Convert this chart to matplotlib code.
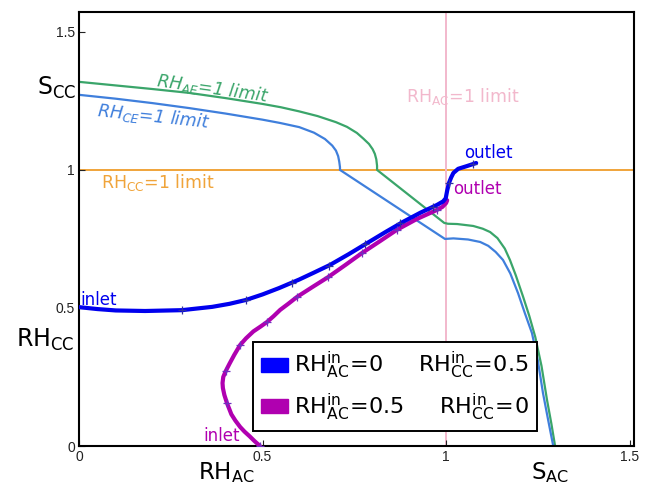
import matplotlib
matplotlib.use("Agg")
import matplotlib.pyplot as plt
from matplotlib.patches import Patch

plt.rcParams['mathtext.default'] = 'regular'
plt.rcParams['font.family'] = ['DejaVu Sans']

# ---- data ----
ae_x = [0.0, 0.1, 0.2, 0.3, 0.4, 0.5, 0.55, 0.6, 0.65, 0.7, 0.73, 0.757, 0.775, 0.79, 0.80,
        0.806, 0.810, 0.812, 0.812,
        0.995, 1.005, 1.03, 1.074, 1.10, 1.12, 1.14, 1.16, 1.174, 1.19, 1.21, 1.227, 1.243,
        1.26, 1.275, 1.287, 1.297]
ae_y = [1.319, 1.306, 1.293, 1.279, 1.260, 1.239, 1.227, 1.212, 1.195, 1.173, 1.156, 1.134,
        1.113, 1.094, 1.075, 1.058, 1.038, 1.015, 1.0,
        0.808, 0.805, 0.804, 0.797, 0.787, 0.775, 0.753, 0.715, 0.674, 0.618, 0.54, 0.47, 0.395,
        0.29, 0.167, 0.08, 0.0]

ce_x = [0.0, 0.1, 0.2, 0.3, 0.4, 0.5, 0.548, 0.6, 0.64, 0.67, 0.69, 0.70, 0.706, 0.709,
        0.711, 0.711,
        0.997, 1.02, 1.06, 1.093, 1.115, 1.135, 1.155, 1.175, 1.196, 1.215, 1.234, 1.25,
        1.264, 1.278, 1.292]
ce_y = [1.272, 1.258, 1.242, 1.224, 1.204, 1.182, 1.17, 1.155, 1.135, 1.112, 1.088, 1.07,
        1.05, 1.03, 1.01, 1.0,
        0.75, 0.752, 0.748, 0.739, 0.725, 0.703, 0.674, 0.625, 0.554, 0.48, 0.409, 0.31,
        0.192, 0.095, 0.0]

traj1_x = [0.0, 0.05, 0.1, 0.18, 0.28, 0.363, 0.41, 0.455, 0.5, 0.545, 0.6, 0.64, 0.684,
           0.735, 0.785, 0.835, 0.883, 0.93, 0.975, 0.992, 0.999, 1.003, 1.008, 1.014, 1.02,
           1.033, 1.057, 1.082]
traj1_y = [0.503, 0.496, 0.491, 0.489, 0.492, 0.504, 0.515, 0.529, 0.549, 0.572, 0.603,
           0.628, 0.656, 0.695, 0.735, 0.775, 0.812, 0.845, 0.873, 0.886, 0.897, 0.925, 0.953,
           0.973, 0.989, 1.004, 1.014, 1.025]
traj1_mx = [0.28, 0.455, 0.58, 0.68, 0.78, 0.875, 0.965, 1.008, 1.074]
traj1_my = [0.492, 0.529, 0.59, 0.653, 0.731, 0.806, 0.867, 0.953, 1.022]

traj2_x = [0.493, 0.478, 0.465, 0.451, 0.439, 0.426, 0.415, 0.403, 0.396, 0.392, 0.391,
           0.393, 0.40, 0.41, 0.423, 0.439, 0.455, 0.475, 0.495, 0.512, 0.53, 0.548, 0.57,
           0.594, 0.635, 0.679, 0.725, 0.771, 0.82, 0.866, 0.92, 0.975, 0.99, 1.0, 1.003]
traj2_y = [0.0, 0.018, 0.035, 0.052, 0.069, 0.092, 0.115, 0.156, 0.185, 0.21, 0.228,
           0.25, 0.272, 0.298, 0.33, 0.366, 0.39, 0.415, 0.433, 0.449, 0.47, 0.493, 0.515,
           0.54, 0.575, 0.612, 0.655, 0.699, 0.742, 0.783, 0.822, 0.855, 0.866, 0.88, 0.89]
traj2_mx = [0.493, 0.403, 0.40, 0.439, 0.512, 0.594, 0.679, 0.771, 0.866, 0.975]
traj2_my = [0.0, 0.156, 0.272, 0.366, 0.449, 0.54, 0.612, 0.699, 0.783, 0.855]

ticks = [0, 0.5, 1, 1.5]
tick_labels = ['0', '0.5', '1', '1.5']

legend_labels = [r'$RH_{AC}^{in}\!=\!0$     $RH_{CC}^{in}\!=\!0.5$',
                 r'$RH_{AC}^{in}\!=\!0.5$     $RH_{CC}^{in}\!=\!0$']

# ---- colours ----
c_green = '#3aa56a'
c_blue = '#3f7fdc'
c_orange = '#f0a43a'
c_pink = '#f2b8cc'
c_traj1 = '#0000ee'
c_traj2 = '#b000b0'

fig = plt.figure(figsize=(6.47, 4.87), dpi=100)
ax = fig.add_axes([79/647, 41/487, 555/647, 434/487])
ax.set_xlim(0, 1.512)
ax.set_ylim(0, 1.572)

ax.axhline(1.0, color=c_orange, lw=1.4, zorder=1)
ax.axvline(1.0, color=c_pink, lw=1.4, zorder=1)
ax.plot(ae_x, ae_y, color=c_green, lw=1.6, zorder=2)
ax.plot(ce_x, ce_y, color=c_blue, lw=1.6, zorder=2)

ax.plot(traj2_x, traj2_y, color=c_traj2, lw=3.0, solid_capstyle='round',
        solid_joinstyle='round', zorder=3)
ax.plot(traj2_mx, traj2_my, ls='none', marker='+', ms=6, mew=0.9, color='#7030c0', zorder=4)
ax.plot(traj1_x, traj1_y, color=c_traj1, lw=3.0, solid_capstyle='round',
        solid_joinstyle='round', zorder=3)
ax.plot(traj1_mx, traj1_my, ls='none', marker='+', ms=6, mew=0.9, color='#3030a0', zorder=4)

# annotations
ax.text(0.21, 1.325, r'$RH_{AE}$=1 limit', color=c_green, fontsize=12.5, rotation=-8,
        style='italic', ha='left', va='center', rotation_mode='anchor')
ax.text(0.05, 1.215, r'$RH_{CE}$=1 limit', color=c_blue, fontsize=12.5, rotation=-6,
        style='italic', ha='left', va='center', rotation_mode='anchor')
ax.text(0.06, 0.955, r'$RH_{CC}$=1 limit', color=c_orange, fontsize=12.5, ha='left', va='center')
ax.text(0.89, 1.265, r'$RH_{AC}$=1 limit', color=c_pink, fontsize=12.5, ha='left', va='center')
ax.text(0.005, 0.53, 'inlet', color=c_traj1, fontsize=12, ha='left', va='center')
ax.text(0.34, 0.035, 'inlet', color=c_traj2, fontsize=12, ha='left', va='center')
ax.text(1.05, 1.06, 'outlet', color=c_traj1, fontsize=12, ha='left', va='center')
ax.text(1.02, 0.93, 'outlet', color=c_traj2, fontsize=12, ha='left', va='center')

ax.set_xticks(ticks)
ax.set_xticklabels(tick_labels)
ax.set_yticks(ticks)
ax.set_yticklabels(tick_labels)
ax.tick_params(direction='in', length=4, width=0.8, labelsize=10, colors='#222222', pad=3)
for lab in ax.get_xticklabels() + ax.get_yticklabels():
    lab.set_fontfamily('Liberation Sans')
for sp in ax.spines.values():
    sp.set_linewidth(1.5)
    sp.set_color('black')

# axis labels
fig.text(57/647, 1 - 88/487, r'$S_{CC}$', fontsize=17, ha='center', va='center')
fig.text(45/647, 1 - 340/487, r'$RH_{CC}$', fontsize=17, ha='center', va='center')
fig.text(226/647, 2/487, r'$RH_{AC}$', fontsize=16.5, ha='center', va='bottom')
fig.text(550/647, 2/487, r'$S_{AC}$', fontsize=16.5, ha='center', va='bottom')

handles = [Patch(facecolor='#0000ff', edgecolor='#0000ff'),
           Patch(facecolor=c_traj2, edgecolor=c_traj2)]
leg = ax.legend(handles, legend_labels, loc='lower left',
                bbox_to_anchor=((253 - 79) / 555, (446 - 431) / 434),
                borderaxespad=0, fontsize=16, handlelength=1.2, handleheight=0.6,
                handletextpad=0.25, borderpad=0.38, labelspacing=0.45,
                fancybox=False, framealpha=1, edgecolor='black')
leg.get_frame().set_linewidth(1.4)

fig.savefig('out.png', dpi=100)
